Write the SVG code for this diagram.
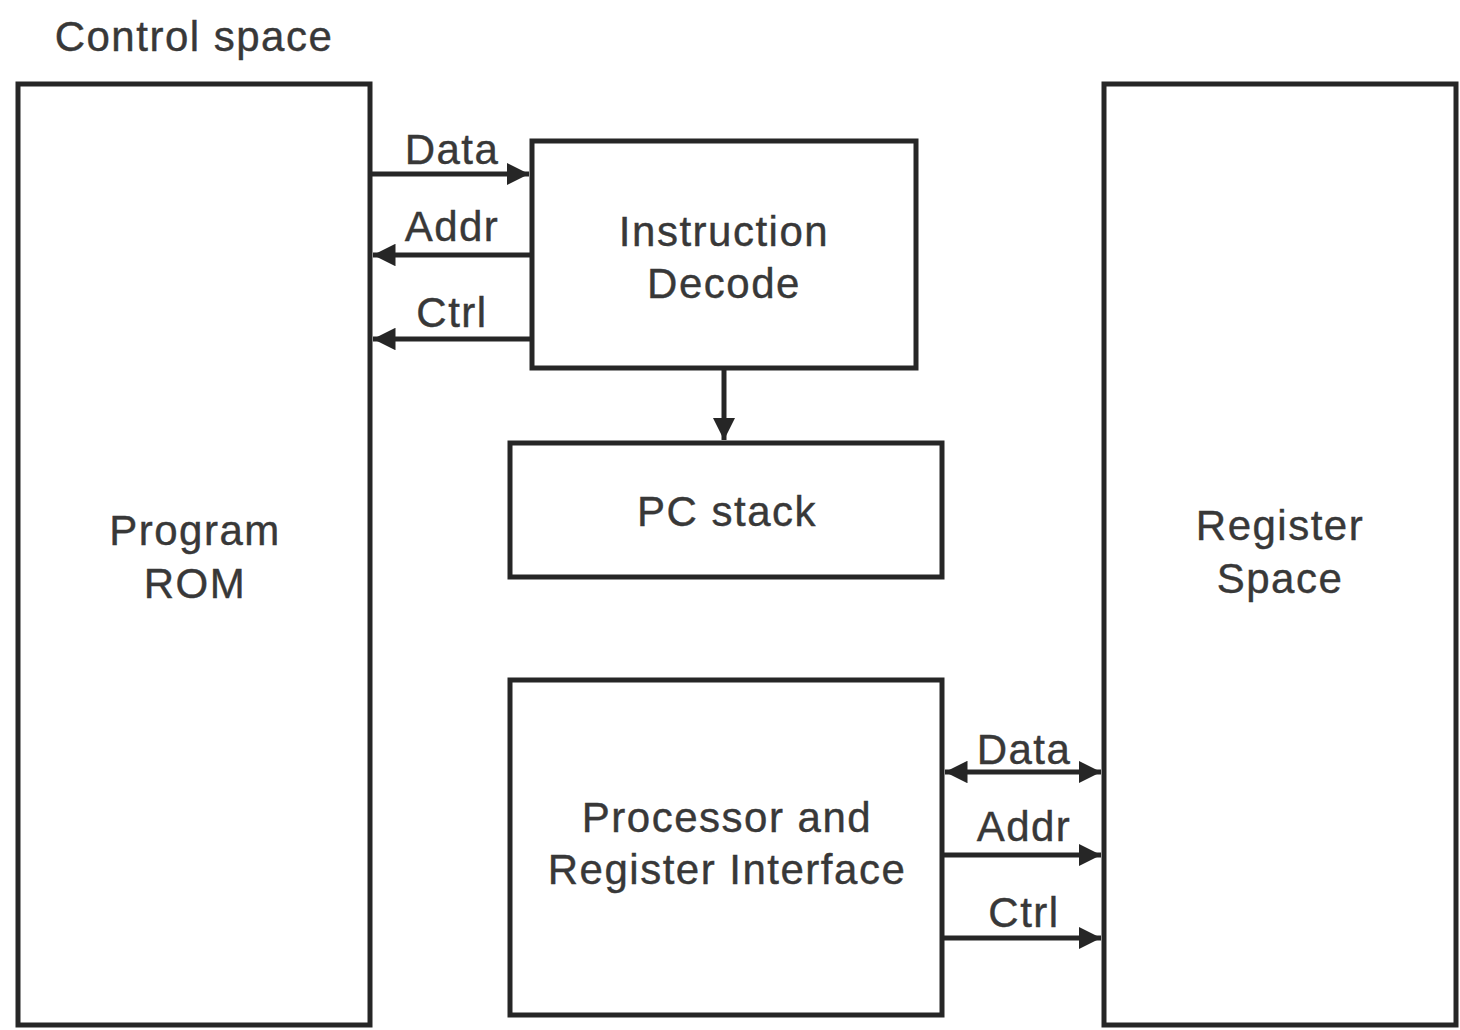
<svg xmlns="http://www.w3.org/2000/svg" width="1460" height="1030" viewBox="0 0 1460 1030">
<style>
.box{fill:#fff;stroke:#262626;stroke-width:5}
.ln{stroke:#262626;stroke-width:5;fill:none}
text{font-family:"Liberation Sans",Arial,sans-serif;font-size:42px;fill:#383838;text-anchor:middle;letter-spacing:1.5px;stroke:#383838;stroke-width:0.4}
</style>
<defs>
<marker id="ah" viewBox="0 0 10 10" refX="10" refY="5" markerWidth="4.5" markerHeight="4.5" orient="auto-start-reverse" markerUnits="strokeWidth">
<path d="M0,0 L10,5 L0,10 z" fill="#262626"/>
</marker>
</defs>
<rect width="1460" height="1030" fill="#fff"/>
<text x="194" y="51">Control space</text>
<g id="program-rom"><rect class="box" x="18" y="84" width="352" height="941"/><text x="195" y="545">Program</text><text x="195" y="598">ROM</text></g>
<g id="register-space"><rect class="box" x="1104" y="84" width="352" height="941"/><text x="1280" y="540">Register</text><text x="1280" y="593">Space</text></g>
<g id="instruction-decode"><rect class="box" x="532" y="141" width="384" height="227"/><text x="724" y="246">Instruction</text><text x="724" y="298">Decode</text></g>
<g id="pc-stack"><rect class="box" x="510" y="443" width="432" height="134"/><text x="727" y="526">PC stack</text></g>
<g id="processor"><rect class="box" x="510" y="680" width="432" height="335"/><text x="727" y="832">Processor and</text><text x="727" y="884">Register Interface</text></g>
<g id="connectors">
<line class="ln" x1="372" y1="174" x2="529" y2="174" marker-end="url(#ah)"/>
<line class="ln" x1="373" y1="255" x2="530" y2="255" marker-start="url(#ah)"/>
<line class="ln" x1="373" y1="339" x2="530" y2="339" marker-start="url(#ah)"/>
<line class="ln" x1="724" y1="370" x2="724" y2="440" marker-end="url(#ah)"/>
<line class="ln" x1="945" y1="772" x2="1101" y2="772" marker-start="url(#ah)" marker-end="url(#ah)"/>
<line class="ln" x1="944" y1="855" x2="1101" y2="855" marker-end="url(#ah)"/>
<line class="ln" x1="944" y1="938" x2="1101" y2="938" marker-end="url(#ah)"/>
<text x="452" y="164">Data</text>
<text x="452" y="241">Addr</text>
<text x="452" y="327">Ctrl</text>
<text x="1024" y="764">Data</text>
<text x="1024" y="841">Addr</text>
<text x="1024" y="927">Ctrl</text>
</g>
</svg>
